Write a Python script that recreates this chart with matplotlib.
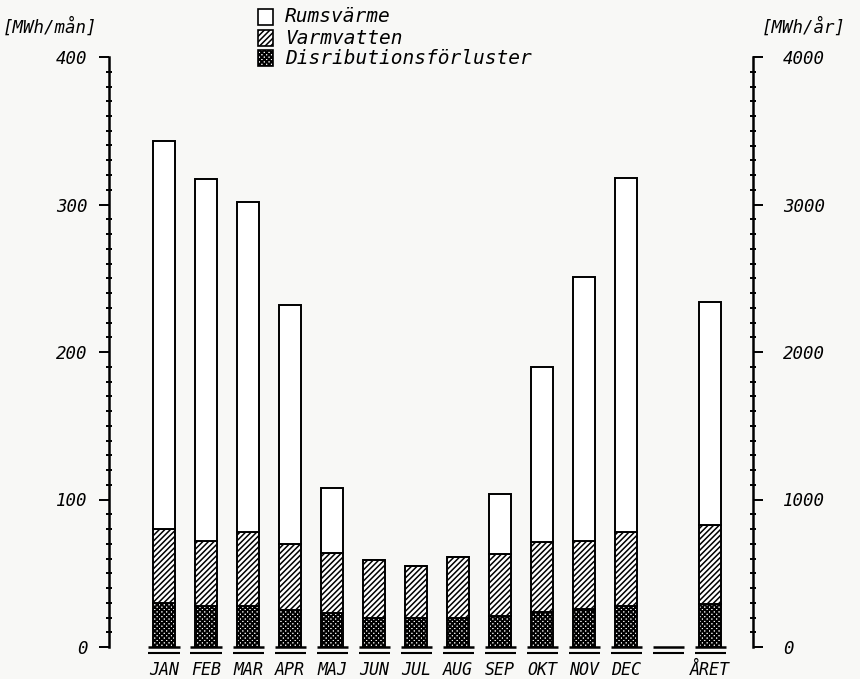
import matplotlib
matplotlib.use("Agg")
import matplotlib.pyplot as plt
from matplotlib.patches import Rectangle
from matplotlib.ticker import MultipleLocator, FixedLocator

# Categories along the x axis (blank slot separates the months from the year total)
categories = ["JAN", "FEB", "MAR", "APR", "MAJ", "JUN", "JUL", "AUG",
              "SEP", "OKT", "NOV", "DEC", "", "ÅRET"]

# Monthly energy demand, MWh/mån (stacked components)
dist_month = [30, 28, 28, 25, 23, 20, 20, 20, 21, 24, 26, 28]
varm_month = [50, 44, 50, 45, 41, 39, 35, 41, 42, 47, 46, 50]
rum_month = [263, 245, 224, 162, 44, 0, 0, 0, 41, 119, 179, 240]

# Whole-year totals, MWh/år (right axis)
dist_year = 290
varm_year = 535
rum_year = 1515

legend_labels = ["Rumsvärme", "Varmvatten", "Disributionsförluster"]
left_ticks = [0, 100, 200, 300, 400]
right_ticks = [0, 1000, 2000, 3000, 4000]
left_unit = "[MWh/mån]"
right_unit = "[MWh/år]"

plt.rcParams["font.family"] = ["DejaVu Sans Mono", "DejaVu Sans"]
plt.rcParams["font.style"] = "oblique"
plt.rcParams["hatch.linewidth"] = 1.0

W, H = 860, 679
bg = "#f8f8f6"
fig = plt.figure(figsize=(W / 100, H / 100), dpi=100, facecolor=bg)

ax = fig.add_axes([109 / W, 32 / H, 644 / W, 590 / H])
ax.set_facecolor("none")
ax.set_xlim(-1.31, 14.02)
ax.set_ylim(0, 400)
ax2 = ax.twinx()
ax2.set_ylim(0, 4000)

lw_axis = 1.8
for a in (ax, ax2):
    for s in ("top", "bottom", "left", "right"):
        a.spines[s].set_visible(False)
ax.spines["left"].set_visible(True)
ax.spines["left"].set_linewidth(lw_axis)
ax2.spines["right"].set_visible(True)
ax2.spines["right"].set_linewidth(lw_axis)

ax.set_xticks([])
ax.yaxis.set_major_locator(FixedLocator(left_ticks))
ax.yaxis.set_minor_locator(MultipleLocator(10))
ax.set_yticklabels([str(v) for v in left_ticks])
ax.tick_params(axis="y", which="major", direction="out", length=7.5,
               width=1.4, pad=8, labelsize=12.5)
ax.tick_params(axis="y", which="minor", direction="inout", length=5,
               width=1.4)

ax2.yaxis.set_major_locator(FixedLocator(right_ticks))
ax2.yaxis.set_minor_locator(MultipleLocator(100))
ax2.set_yticklabels([str(v) for v in right_ticks])
ax2.tick_params(axis="y", which="major", direction="out", length=7.5,
                width=1.4, pad=14, labelsize=12.5)
ax2.tick_params(axis="y", which="minor", direction="inout", length=5,
                width=1.4)

bar_w = 0.524
edge_lw = 1.4
month_x = list(range(12))
year_x = categories.index("ÅRET")

DIST_HATCH = "xxxxxxx"
VARM_HATCH = "//////"

def stacked(a, xs, d, v, r):
    bottom_v = [p for p in d]
    bottom_r = [p + q for p, q in zip(d, v)]
    with plt.rc_context({"hatch.linewidth": 1.4}):
        a.bar(xs, d, width=bar_w, color="white", edgecolor="black",
              hatch=DIST_HATCH, linewidth=edge_lw, zorder=3)
    with plt.rc_context({"hatch.linewidth": 1.1}):
        a.bar(xs, v, bottom=bottom_v, width=bar_w, color="white",
              edgecolor="black", hatch=VARM_HATCH, linewidth=edge_lw, zorder=3)
    a.bar(xs, r, bottom=bottom_r, width=bar_w, color="white",
          edgecolor="black", linewidth=edge_lw, zorder=3)

stacked(ax, month_x, dist_month, varm_month, rum_month)
stacked(ax2, [year_x], [dist_year], [varm_year], [rum_year])

# Double base line under every category slot
half = 0.37
for i in range(len(categories)):
    ax.plot([i - half, i + half], [0, 0], color="black", lw=1.8,
            clip_on=False, zorder=4, solid_capstyle="butt")
    ax.plot([i - half, i + half], [-3.8, -3.8], color="black", lw=1.5,
            clip_on=False, zorder=4, solid_capstyle="butt")
    if categories[i]:
        ax.text(i, -15.6, categories[i], ha="center", va="center",
                fontsize=12, clip_on=False)

# Unit labels
fig.text(3 / W, 1 - 27 / H, left_unit, ha="left", va="center", fontsize=12.5)
fig.text(762 / W, 1 - 27 / H, right_unit, ha="left", va="center", fontsize=12.5)

# Legend drawn as boxes with matching fills
legend_hatch = [None, "//////", DIST_HATCH]
legend_hlw = [1.0, 1.1, 1.4]
rows_y = [17, 38, 58]
box = 15
for lab, hatch, hlw, yc in zip(legend_labels, legend_hatch, legend_hlw, rows_y):
    with plt.rc_context({"hatch.linewidth": hlw}):
        r = Rectangle((258 / W, 1 - (yc + box / 2) / H), box / W, box / H,
                      transform=fig.transFigure, facecolor="white",
                      edgecolor="black", hatch=hatch, linewidth=1.2)
    fig.add_artist(r)
    fig.text(285 / W, 1 - yc / H, lab, ha="left", va="center", fontsize=14)

fig.savefig("out.png", dpi=100, facecolor=bg)
